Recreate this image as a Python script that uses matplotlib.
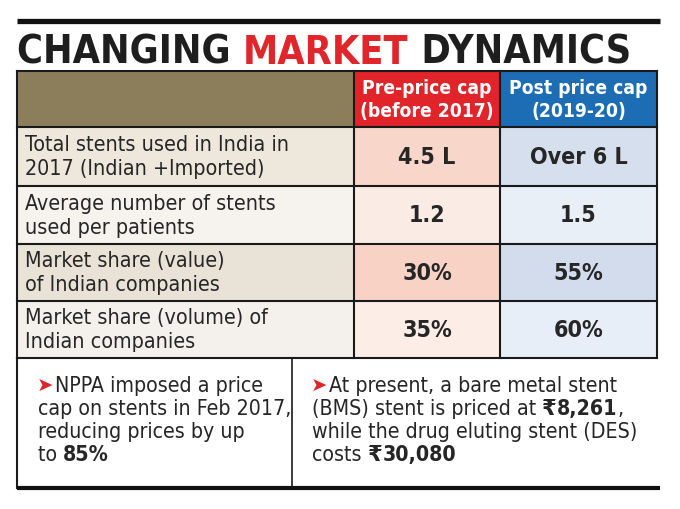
import os
import matplotlib
matplotlib.use("Agg")
import matplotlib.pyplot as plt
from matplotlib import font_manager as fm
from matplotlib.font_manager import FontProperties
from matplotlib.patches import Rectangle

# =======================
# DATA
# =======================
TITLE_PARTS = ["CHANGING ", "MARKET", " DYNAMICS"]
HEADERS = [["Pre-price cap", "(before 2017)"], ["Post price cap", "(2019-20)"]]
ROW_LABELS = [
    ["Total stents used in India in", "2017 (Indian +Imported)"],
    ["Average number of stents", "used per patients"],
    ["Market share (value)", "of Indian companies"],
    ["Market share (volume) of", "Indian companies"],
]
PRE_VALUES = ["4.5 L", "1.2", "30%", "35%"]
POST_VALUES = ["Over 6 L", "1.5", "55%", "60%"]

# notes: list of lines, each line a list of (text, bold)
NOTE_LEFT = [
    [("NPPA imposed a price", False)],
    [("cap on stents in Feb 2017,", False)],
    [("reducing prices by up", False)],
    [("to ", False), ("85%", True)],
]
NOTE_RIGHT = [
    [("At present, a bare metal stent", False)],
    [("(BMS) stent is priced at ", False), ("₹", True), ("8,261", True), (",", False)],
    [("while the drug eluting stent (DES)", False)],
    [("costs ", False), ("₹", True), ("30,080", True)],
]


# =======================
# FONTS
# =======================
def find_narrow(bold):
    """Pick a condensed/narrow sans font file if one is installed."""
    prio = ["liberationsansnarrow", "notosans-condensed", "dejavusanscondensed"]
    found = {}
    for f in fm.fontManager.ttflist:
        stem = os.path.splitext(os.path.basename(f.fname))[0].lower()
        if "italic" in stem or "oblique" in stem:
            continue
        if "condensed" not in stem and "narrow" not in stem:
            continue
        if "extra" in stem or "semi" in stem or "ultra" in stem:
            continue
        is_bold = stem.endswith("bold")
        if is_bold != bold:
            continue
        if not bold and not (stem.endswith("condensed") or stem.endswith("narrow")
                             or stem.endswith("regular")):
            continue
        for p in prio:
            if stem.startswith(p):
                found.setdefault(p, f.fname)
    for p in prio:
        if p in found:
            return found[p]
    return fm.findfont(FontProperties(family="Roboto", weight="bold" if bold else "normal"))


REG_FILE = find_narrow(False)
BOLD_FILE = find_narrow(True)

RED = "#e1232a"
BLUE = "#1d6db5"
OLIVE = "#8c7e5a"
DARK = "#262626"
LEFT_FILL = ["#ede7dc", "#f6f3ee", "#e9e2d6", "#f4f1ec"]
PRE_FILL = ["#f9d6ca", "#fbebe5", "#f8d3c5", "#fcede7"]
POST_FILL = ["#d5dfee", "#e9eff7", "#d2dcec", "#e8eef7"]

X0, XC1, XC2, X1 = 17, 354, 500, 657
HEAD_TOP, HEAD_BOT = 72, 128
ROW_EDGES = [128, 187, 245, 302, 359]
NOTE_BOT = 489
NOTE_DIV = 292

fig = plt.figure(figsize=(6.8, 5.1), dpi=100)
ax = fig.add_axes([0, 0, 1, 1])
ax.set_xlim(0, 680)
ax.set_ylim(510, 0)
ax.axis("off")
renderer = fig.canvas.get_renderer()


def fp(size, bold=False, fallback=False):
    if fallback:
        return FontProperties(family="DejaVu Sans", weight="bold" if bold else "normal", size=size)
    return FontProperties(fname=BOLD_FILE if bold else REG_FILE, size=size)


def put(x, y, s, size, bold=False, color=DARK, ha="left", va="center"):
    fb = s in ("₹", "➤")
    return ax.text(x, y, s, fontproperties=fp(size, bold, fb), color=color, ha=ha, va=va)


def width_of(s, size, bold=False):
    t = put(0, 0, s, size, bold)
    w = t.get_window_extent(renderer=renderer).width
    t.remove()
    return w


def fit(s, target, bold=False):
    return 20 * target / width_of(s, 20, bold)


def put_pieces(x, y, pieces, size, color=DARK, va="center"):
    for s, bold in pieces:
        t = put(x, y, s, size, bold, color, va=va)
        x += t.get_window_extent(renderer=renderer).width
    return x


# sizes matched to the widths of the reference lines
S_TITLE = fit("".join(TITLE_PARTS), 630 - X0, True)
S_HEAD = fit("Pre-price cap", 129, True)
S_LABEL = fit("Total stents used in India in", 263)
S_VALUE = fit("Over 6 L", 98, True)
S_NOTE = fit("while the drug eluting stent (DES)", 637 - 312)

# top rule
ax.plot([X0, 660], [22, 22], color="#111111", lw=3.8, solid_capstyle="butt")

# title
title_colors = ["#1e1e1e", "#e0262b", "#1e1e1e"]
tx = X0
for s, c in zip(TITLE_PARTS, title_colors):
    t = put(tx, 64, s, S_TITLE, True, c, va="baseline")
    tx += t.get_window_extent(renderer=renderer).width

# header
ax.add_patch(Rectangle((X0, HEAD_TOP), XC1 - X0, HEAD_BOT - HEAD_TOP, color=OLIVE, lw=0))
ax.add_patch(Rectangle((XC1, HEAD_TOP), XC2 - XC1, HEAD_BOT - HEAD_TOP, color=RED, lw=0))
ax.add_patch(Rectangle((XC2, HEAD_TOP), X1 - XC2, HEAD_BOT - HEAD_TOP, color=BLUE, lw=0))
for (l1, l2), cx in zip(HEADERS, [(XC1 + XC2) / 2, (XC2 + X1) / 2]):
    put(cx, 89, l1, S_HEAD, True, "white", ha="center")
    put(cx, 112, l2, S_HEAD, True, "white", ha="center")

# body rows
for i, (lab, pre, post) in enumerate(zip(ROW_LABELS, PRE_VALUES, POST_VALUES)):
    top, bot = ROW_EDGES[i], ROW_EDGES[i + 1]
    cy = (top + bot) / 2
    ax.add_patch(Rectangle((X0, top), XC1 - X0, bot - top, color=LEFT_FILL[i], lw=0))
    ax.add_patch(Rectangle((XC1, top), XC2 - XC1, bot - top, color=PRE_FILL[i], lw=0))
    ax.add_patch(Rectangle((XC2, top), X1 - XC2, bot - top, color=POST_FILL[i], lw=0))
    put(25, cy - 12, lab[0], S_LABEL)
    put(25, cy + 12, lab[1], S_LABEL)
    put((XC1 + XC2) / 2, cy, pre, S_VALUE, True, ha="center")
    put((XC2 + X1) / 2, cy, post, S_VALUE, True, ha="center")

# grid lines
lc = "#1a1a1a"
for y in [HEAD_TOP] + ROW_EDGES:
    ax.plot([X0, X1], [y, y], color=lc, lw=1.5, solid_capstyle="projecting")
for xv in [X0, XC1, XC2, X1]:
    ax.plot([xv, xv], [HEAD_TOP, ROW_EDGES[-1]], color=lc, lw=1.5)

# notes box
ax.plot([X0, X0], [ROW_EDGES[-1], NOTE_BOT], color=lc, lw=1.5)
ax.plot([NOTE_DIV, NOTE_DIV], [ROW_EDGES[-1], NOTE_BOT], color=lc, lw=1.2)
ax.plot([X0, 660], [NOTE_BOT, NOTE_BOT], color="#111111", lw=3, solid_capstyle="butt")

line_y = [386, 409, 432, 455]
for note, x_text in [(NOTE_LEFT, 38), (NOTE_RIGHT, 312)]:
    ax.text(x_text - 1, line_y[0], "➤", fontsize=14, color=RED, family=["DejaVu Sans"],
            ha="left", va="center")
    for j, (line, y) in enumerate(zip(note, line_y)):
        x = x_text + 17 if j == 0 else x_text
        put_pieces(x, y, line, S_NOTE)

fig.savefig("out.png", dpi=100)
